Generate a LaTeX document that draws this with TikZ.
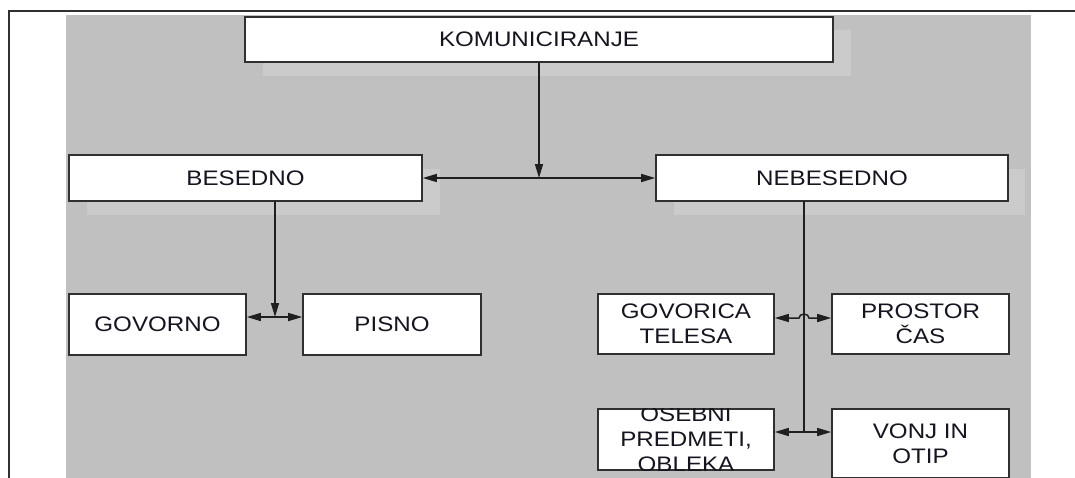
\documentclass[tikz,border=0pt]{standalone}
\usepackage{fontspec}
\setmainfont{Liberation Sans}[FakeStretch=1.15]
\usetikzlibrary{arrows.meta}
\definecolor{bggray}{HTML}{C0C0C0}
\definecolor{shgray}{HTML}{CBCBCB}
\definecolor{edgecol}{HTML}{303030}
\definecolor{txtcol}{HTML}{151520}
\begin{document}
\begin{tikzpicture}[x=1pt,y=-1pt,
  box/.style={draw=edgecol,line width=1.6pt,fill=white,inner sep=0pt,align=center,
    text=txtcol,font=\fontsize{21}{25}\selectfont},
  boxtext/.style={inner sep=0pt,align=center,text=txtcol,font=\fontsize{21}{25}\selectfont},
  shadowfill/.style={fill=shgray},
  conn/.style={draw=black!88,line width=1.5pt},
  >={Triangle[length=14pt,width=8pt]}]
\clip (0,0) rectangle (1075,477);
% background
\fill[bggray] (66,15) rectangle (1031,490);
\draw[edgecol,line width=1.8pt] (9,490) -- (9,11) -- (1090,11);
% shadows
\fill[shadowfill] (263,30) rectangle (851,76);
\fill[shadowfill] (87,169) rectangle (440,215);
\fill[shadowfill] (674,169) rectangle (1025,215);
% boxes
\node[box,minimum width=588pt,minimum height=45pt] (kom) at (539,39.5) {KOMUNICIRANJE};
\node[box,minimum width=353pt,minimum height=46pt] (bes) at (245.5,178) {BESEDNO};
\node[box,minimum width=352pt,minimum height=46pt] (neb) at (832,178) {NEBESEDNO};
\node[box,minimum width=177pt,minimum height=61pt] (gov) at (157.5,324.5) {GOVORNO};
\node[box,minimum width=178pt,minimum height=61pt] (pis) at (392,324.5) {PISNO};
\node[box,minimum width=176pt,minimum height=60pt] (gt) at (686,324) {GOVORICA\\TELESA};
\node[box,minimum width=177pt,minimum height=60pt] (pc) at (920.5,324) {PROSTOR\\ČAS};
\node[box,minimum width=176pt,minimum height=61pt] (op) at (686,439.5) {};
\begin{scope}
  \clip (op.north west) rectangle (op.south east);
  \node[boxtext] (optext) at (op.center) {OSEBNI\\PREDMETI,\\OBLEKA};
\end{scope}
\node[box,minimum width=177pt,minimum height=69pt] (vo) at (920.5,443.5) {VONJ IN\\OTIP};
% helper coordinates
\coordinate (bs) at (275,201);
\coordinate (gp) at (275,317);
\coordinate (ns) at (804,201);
\coordinate (ne) at (804,432);
\coordinate (hy) at (0,318);
\coordinate (hopa) at (799,318);
% connectors
\draw[conn,->] (kom.south) -- (kom.south |- bes.east);
\draw[conn,<->] (bes.east) -- (neb.west);
\draw[conn,->] (bs) -- (gp);
\draw[conn,<->] (gov.east |- gp) -- (pis.west |- gp);
\draw[conn] (ns) -- (ne);
\draw[conn,<->] (gt.east |- hy) -- (hopa) arc[start angle=180,end angle=0,x radius=5pt,y radius=4pt] -- (pc.west |- hy);
\draw[conn,<->] (op.east |- ne) -- (vo.west |- ne);
\end{tikzpicture}
\end{document}
